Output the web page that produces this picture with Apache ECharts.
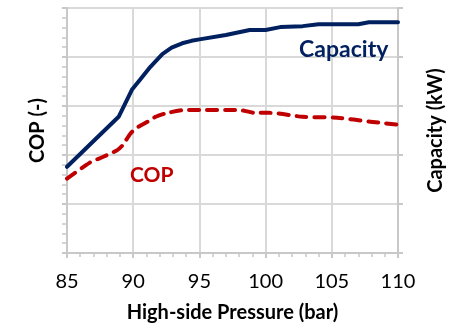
<!DOCTYPE html>
<html><head><meta charset="utf-8">
<script src="https://cdn.jsdelivr.net/npm/echarts@6/dist/echarts.min.js"></script>
<style>html,body{margin:0;padding:0;background:#fff}#c{width:454px;height:326px}</style>
</head><body><div id="c"></div>
<script>
// High-side pressure (bar) vs capacity (kW)
const capPressure = [85, 88.9, 89.9, 90.5, 91.3, 92.2, 92.9, 93.7, 94.4, 95, 97, 98.8, 100, 101.1, 102.8, 104, 107, 107.8, 110];
const capacity    = [17.6, 27.8, 33.3, 35.3, 38.0, 40.6, 41.9, 42.8, 43.3, 43.6, 44.5, 45.5, 45.5, 46.1, 46.3, 46.7, 46.7, 47.1, 47.1];
// High-side pressure (bar) vs COP (-)
const copPressure = [85, 86.7, 87.7, 88.8, 89.2, 89.8, 90.3, 91.1, 91.7, 92.6, 94, 95, 97, 98, 99.2, 100.3, 102.8, 105.4, 107.9, 110];
const cop         = [1.76, 1.92, 1.98, 2.05, 2.10, 2.22, 2.28, 2.34, 2.39, 2.43, 2.46, 2.46, 2.46, 2.46, 2.43, 2.43, 2.39, 2.38, 2.34, 2.31];
// Axis ranges / ticks
const xRange = [85, 110, 5];
const copRange = [1.0, 3.5, 0.5];
const capRange = [0, 50, 10];
// In-chart series labels [text, pressure, value]
const capLabel = ['Capacity', 105.9, 41.6];
const copLabel = ['COP', 91.4, 1.79];

const FONT = 'Lato';
const GRID = '#D9D9D9';
const AXIS = '#C8C8C8';
const NAVY = '#002060';
const RED = '#C00000';

const chart = echarts.init(document.getElementById('c'), null, {renderer: 'canvas'});
const zip = (a, b) => a.map((v, i) => [v, b[i]]);

chart.setOption({
  animation: false,
  backgroundColor: '#fff',
  grid: {left: 67, right: 56, top: 8, bottom: 73, containLabel: false, outerBoundsMode: 'none'},
  xAxis: [{
    type: 'value', min: xRange[0], max: xRange[1], interval: xRange[2], position: 'bottom',
    name: 'High-side Pressure (bar)', nameLocation: 'middle', nameGap: 50, nameMoveOverlap: false,
    nameTextStyle: {fontFamily: FONT, fontWeight: 'bold', fontSize: 20, color: '#000'},
    axisLine: {show: true, lineStyle: {color: AXIS, width: 2}},
    axisTick: {show: false},
    minorTick: {show: true, splitNumber: 5, length: 4, lineStyle: {color: AXIS, width: 1.5}},
    axisLabel: {fontFamily: FONT, fontSize: 20, color: '#000', margin: 18.5},
    splitLine: {show: true, lineStyle: {color: GRID, width: 2}}
  }, {
    type: 'value', min: xRange[0], max: xRange[1], interval: xRange[2], position: 'bottom',
    axisLine: {show: false},
    axisTick: {show: true, inside: false, length: 5, lineStyle: {color: AXIS, width: 2}},
    axisLabel: {show: false}, splitLine: {show: false}
  }],
  yAxis: [{
    type: 'value', min: copRange[0], max: copRange[1], interval: copRange[2], position: 'left',
    name: 'COP (-)', nameLocation: 'middle', nameGap: 19, nameRotate: 90, nameMoveOverlap: false,
    nameTextStyle: {fontFamily: FONT, fontWeight: 'bold', fontSize: 20, color: '#000'},
    axisLine: {show: true, lineStyle: {color: AXIS, width: 2}},
    axisTick: {show: false},
    minorTick: {show: true, splitNumber: 5, length: 5, lineStyle: {color: AXIS, width: 1.5}},
    axisLabel: {show: false},
    splitLine: {show: true, lineStyle: {color: GRID, width: 2}}
  }, {
    type: 'value', min: capRange[0], max: capRange[1], interval: capRange[2], position: 'right',
    name: 'Capacity (kW)', nameLocation: 'middle', nameGap: 28, nameRotate: 90, nameMoveOverlap: false,
    nameTextStyle: {fontFamily: FONT, fontWeight: 'bold', fontSize: 20, color: '#000'},
    axisLine: {show: true, lineStyle: {color: AXIS, width: 2}},
    axisTick: {show: true, inside: false, length: 5, lineStyle: {color: AXIS, width: 2}},
    axisLabel: {show: false},
    splitLine: {show: false}
  }, {
    type: 'value', min: copRange[0], max: copRange[1], interval: copRange[2], position: 'left',
    axisLine: {show: false},
    axisTick: {show: true, inside: false, length: 5, lineStyle: {color: AXIS, width: 2}},
    axisLabel: {show: false}, splitLine: {show: false}
  }],
  series: [{
    type: 'line', name: 'COP', xAxisIndex: 0, yAxisIndex: 0,
    data: zip(copPressure, cop), showSymbol: false, symbol: 'none', smooth: 0.25,
    lineStyle: {color: RED, width: 4, type: [10, 8], cap: 'round', join: 'round'},
    markPoint: {
      symbol: 'circle', symbolSize: 1, itemStyle: {color: 'rgba(0,0,0,0)'},
      label: {show: true, position: 'inside', formatter: copLabel[0], fontFamily: FONT, fontWeight: 'bold', fontSize: 21, color: RED},
      data: [{coord: [copLabel[1], copLabel[2]]}]
    }
  }, {
    type: 'line', name: 'Capacity', xAxisIndex: 0, yAxisIndex: 1,
    data: zip(capPressure, capacity), showSymbol: false, symbol: 'none',
    lineStyle: {color: NAVY, width: 4, join: 'round', cap: 'round'},
    markPoint: {
      symbol: 'circle', symbolSize: 1, itemStyle: {color: 'rgba(0,0,0,0)'},
      label: {show: true, position: 'inside', formatter: capLabel[0], fontFamily: FONT, fontWeight: 'bold', fontSize: 23, color: NAVY},
      data: [{coord: [capLabel[1], capLabel[2]]}]
    }
  }]
});
</script></body></html>
